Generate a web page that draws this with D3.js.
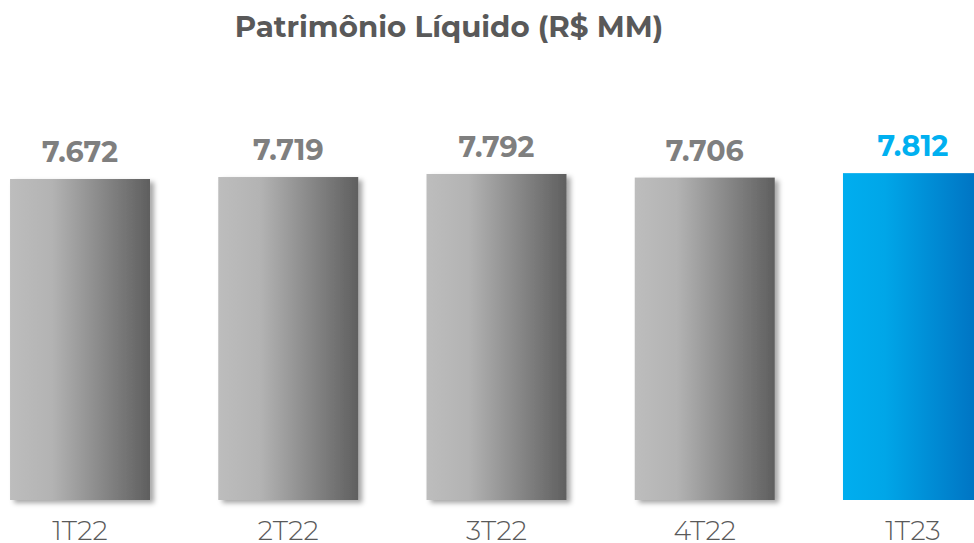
<!DOCTYPE html>
<html><head><meta charset="utf-8">
<script src="https://cdn.jsdelivr.net/npm/d3@7"></script>
<style>html,body{margin:0;padding:0;background:#fff;} svg{display:block;}</style>
</head><body>
<script>
const categories = ["1T22", "2T22", "3T22", "4T22", "1T23"];
const values = [7.672, 7.719, 7.792, 7.706, 7.812];
const valueLabels = ["7.672", "7.719", "7.792", "7.706", "7.812"];
const highlight = [false, false, false, false, true];
const title = "Patrimônio Líquido (R$ MM)";

const W = 974, H = 543;
const FONT = "'Montserrat', 'Open Sans', 'Noto Sans', sans-serif";
const svg = d3.select("body").append("svg").attr("width", W).attr("height", H);
const defs = svg.append("defs");

const gg = defs.append("linearGradient").attr("id", "gGray").attr("x1", "0%").attr("x2", "100%");
[[0, "#bdbdbd"], [0.3, "#b3b3b3"], [1, "#5f5f5f"]].forEach(([o, c]) => gg.append("stop").attr("offset", o).attr("stop-color", c));
const gb = defs.append("linearGradient").attr("id", "gBlue").attr("x1", "0%").attr("x2", "100%");
[[0, "#00aeef"], [0.3, "#00a6e8"], [1, "#0070c0"]].forEach(([o, c]) => gb.append("stop").attr("offset", o).attr("stop-color", c));

const f = defs.append("filter").attr("id", "shadow").attr("x", "-10%").attr("y", "-10%").attr("width", "130%").attr("height", "130%");
f.append("feDropShadow").attr("dx", 4).attr("dy", 3).attr("stdDeviation", 2.5).attr("flood-color", "#000").attr("flood-opacity", 0.35);

const x = d3.scaleBand().domain(categories).range([-24.1, 1017.1]).paddingInner(0.3277).paddingOuter(0.1639);
const baseY = 500;
const y = d3.scaleLinear().domain([0, 7.672]).range([baseY, 179]);

svg.append("text").attr("x", 449).attr("y", 37).attr("text-anchor", "middle")
  .attr("font-family", FONT).attr("font-weight", 700).attr("font-size", 29.3).attr("fill", "#595959").text(title);

const g = svg.append("g");
g.selectAll("rect.bar").data(categories).join("rect").attr("class", "bar")
  .attr("x", d => x(d)).attr("width", x.bandwidth())
  .attr("y", (d, i) => y(values[i])).attr("height", (d, i) => baseY - y(values[i]))
  .attr("fill", (d, i) => highlight[i] ? "url(#gBlue)" : "url(#gGray)")
  .attr("filter", (d, i) => highlight[i] ? null : "url(#shadow)");

g.selectAll("text.val").data(categories).join("text").attr("class", "val")
  .attr("x", d => x(d) + x.bandwidth() / 2).attr("y", (d, i) => y(values[i]) - 17)
  .attr("text-anchor", "middle").attr("font-family", FONT).attr("font-weight", 700).attr("font-size", 28.5)
  .attr("fill", (d, i) => highlight[i] ? "#00b0f0" : "#7f7f7f").text((d, i) => valueLabels[i]);

const axis = d3.axisBottom(x).tickSize(0).tickPadding(0);
const ax = svg.append("g").attr("transform", `translate(0,${baseY})`).call(axis);
ax.select(".domain").remove();
ax.selectAll("text").attr("y", 40).attr("dy", 0).attr("font-family", FONT).attr("font-weight", 300)
  .attr("font-size", 27).attr("fill", "#595959");
</script>
</body></html>
